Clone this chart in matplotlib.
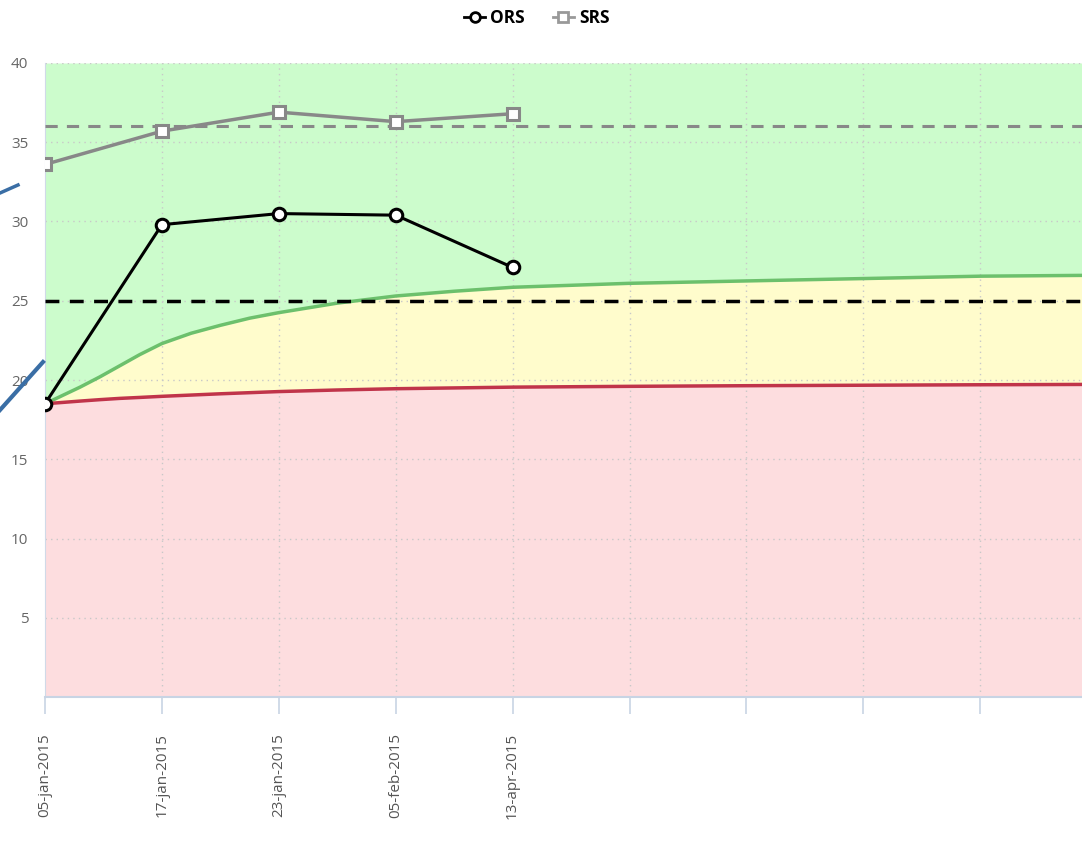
import matplotlib.pyplot as plt
from matplotlib.lines import Line2D

# Dados
datas = ["05-jan-2015", "17-jan-2015", "23-jan-2015", "05-feb-2015", "13-apr-2015"]
ors = [18.5, 29.8, 30.5, 30.4, 27.1]
srs = [33.6, 35.7, 36.9, 36.3, 36.8]
ors_alvo = 25
srs_alvo = 36

# Curvas de trajetória esperada (posição no eixo x, valor)
curva_x = [0, 0.3, 0.47, 0.64, 0.81, 1, 1.25, 1.5, 1.75, 2, 2.5, 3, 3.5, 4,
           5, 6, 7, 8, 8.87]
curva_verde = [18.5, 19.55, 20.2, 20.9, 21.6, 22.3, 22.95, 23.45, 23.9, 24.25,
               24.85, 25.3, 25.6, 25.85, 26.1, 26.25, 26.4, 26.55, 26.6]
curva_vermelha = [18.5, 18.67, 18.76, 18.84, 18.9, 18.97, 19.05, 19.13, 19.2,
                  19.27, 19.37, 19.45, 19.5, 19.55, 19.6, 19.64, 19.67, 19.7, 19.72]

n_cat = 9
xmax = 8.87

plt.rcParams["font.family"] = ["Open Sans", "DejaVu Sans"]
fig = plt.figure(figsize=(10.82, 8.48), dpi=100)
ax = fig.add_axes([45 / 1082, 151 / 848, 1 - 45 / 1082, 634 / 848])

# Zonas coloridas
ax.fill_between(curva_x, curva_verde, 40, color="#ccfccc", lw=0, zorder=0)
ax.fill_between(curva_x, curva_vermelha, curva_verde, color="#fffccc", lw=0, zorder=0)
ax.fill_between(curva_x, 0, curva_vermelha, color="#fddddf", lw=0, zorder=0)
ax.plot(curva_x, curva_verde, color="#6cc06c", lw=2.5, zorder=2)
ax.plot(curva_x, curva_vermelha, color="#c0344a", lw=2.5, zorder=2)

# Linhas de referência
ax.axhline(ors_alvo, color="black", lw=2.5, ls=(0, (4, 3)), zorder=3)
ax.axhline(srs_alvo, color="#888888", lw=2.2, ls=(0, (4, 3)), zorder=3)

x = list(range(len(datas)))
ax.plot(x, srs, color="#888888", lw=2.5, marker="s", ms=8.5, mfc="white",
        mec="#888888", mew=2.2, zorder=5)
ax.plot(x, ors, color="black", lw=2.2, marker="o", ms=9, mfc="white",
        mec="black", mew=2.2, zorder=6)

ax.set_xlim(0, xmax)
ax.set_ylim(0, 40)
ax.set_yticks([5, 10, 15, 20, 25, 30, 35, 40])
ax.set_xticks(range(n_cat))
ax.set_xticklabels(datas + [""] * (n_cat - len(datas)), rotation=90)
ax.tick_params(axis="y", length=0, labelsize=11, labelcolor="#666666", pad=12)
ax.tick_params(axis="x", length=12, width=1.2, color="#c8d4e4", labelsize=11,
               labelcolor="#555555", pad=14)

for v in range(5, 41, 5):
    ax.axhline(v, color="#c8c8c8", lw=1, ls=(0, (1, 3)), zorder=1)
for v in range(1, n_cat):
    ax.axvline(v, color="#c8c8c8", lw=1, ls=(0, (1, 3)), zorder=1)

for s in ["top", "right"]:
    ax.spines[s].set_visible(False)
ax.spines["left"].set_color("#d0dae8")
ax.spines["bottom"].set_color("#c8d4e4")
ax.spines["bottom"].set_linewidth(1.5)

# Legenda
handles = [
    Line2D([], [], color="black", lw=2, marker="o", ms=7, mfc="white", mew=2),
    Line2D([], [], color="#999999", lw=2, marker="s", ms=7, mfc="white", mew=2),
]
fig.legend(handles, ["ORS", "SRS"], loc="center", bbox_to_anchor=(537 / 1082, 1 - 18 / 848),
           ncol=2, frameon=False, handlelength=1.2, columnspacing=1.6,
           handletextpad=0.3, prop={"size": 12.5, "weight": "bold"})

# Setas azuis sobrepostas à esquerda
fig.add_artist(Line2D([0 / 1082, 18 / 1082], [1 - 193 / 848, 1 - 185 / 848],
                      color="#3a6ea5", lw=2.5))
fig.add_artist(Line2D([0 / 1082, 43 / 1082], [1 - 410 / 848, 1 - 362 / 848],
                      color="#3a6ea5", lw=3))

fig.savefig("out.png", dpi=100)
